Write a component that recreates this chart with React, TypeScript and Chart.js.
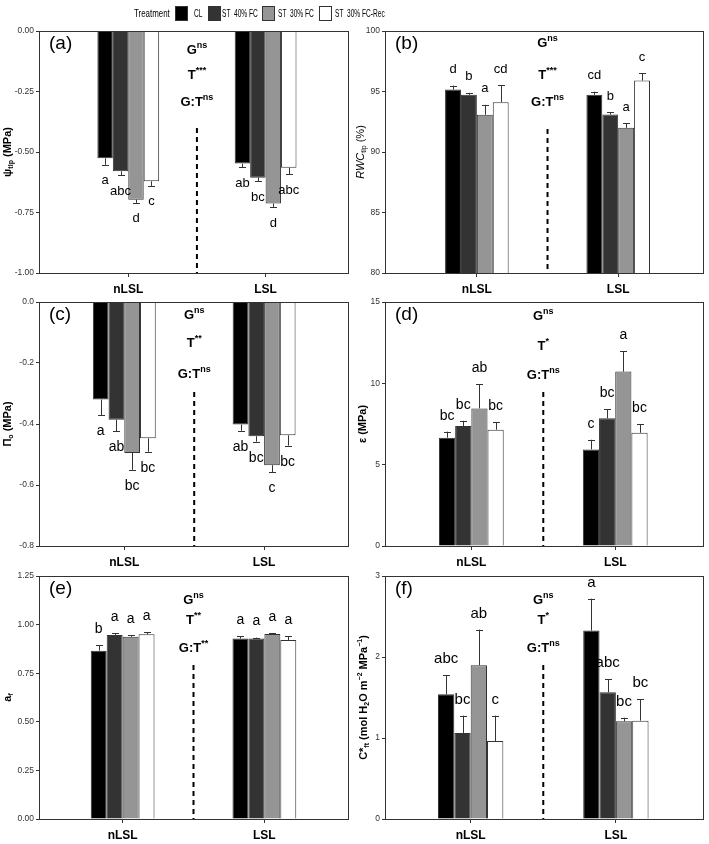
import React, { useEffect, useRef } from 'react';
import { Chart, registerables } from 'chart.js';
Chart.register(...registerables);

const FAMILY = '"Liberation Sans", Arial, Helvetica, sans-serif';
Chart.defaults.font.family = FAMILY;

const categories = ['nLSL', 'LSL'];
const treatments = ['CL', 'ST  40% FC', 'ST  30% FC', 'ST  30% FC-Rec'];
const barColors = ['#000000', '#333333', '#959595', '#ffffff'];

// (a) turgor loss point water potential (MPa): [treatment][category]
const psiTlpMeans = [[-0.526, -0.548], [-0.58, -0.606], [-0.697, -0.713], [-0.621, -0.565]];
const psiTlpErrors = [[0.027, 0.014], [0.017, 0.015], [0.013, 0.014], [0.019, 0.026]];
const psiTlpLetters = [['a', 'ab'], ['abc', 'bc'], ['d', 'd'], ['c', 'abc']];
const psiTlpStats = ['ns', '***', 'ns'];

// (b) RWC at turgor loss point (%)
const rwcMeans = [[95.16, 94.73], [94.73, 93.1], [93.08, 92.0], [94.12, 95.9]];
const rwcErrors = [[0.33, 0.25], [0.16, 0.19], [0.82, 0.38], [1.38, 0.6]];
const rwcLetters = [['d', 'cd'], ['b', 'b'], ['a', 'a'], ['cd', 'c']];
const rwcStats = ['ns', '***', 'ns'];

// (c) osmotic potential at full turgor (MPa)
const piMeans = [[-0.32, -0.402], [-0.386, -0.44], [-0.495, -0.535], [-0.447, -0.437]];
const piErrors = [[0.052, 0.02], [0.038, 0.018], [0.055, 0.024], [0.044, 0.034]];
const piLetters = [['a', 'ab'], ['ab', 'bc'], ['bc', 'c'], ['bc', 'bc']];
const piStats = ['ns', '**', 'ns'];

// (d) bulk modulus of elasticity (MPa)
const epsMeans = [[6.66, 5.94], [7.37, 7.85], [8.46, 10.72], [7.15, 6.96]];
const epsErrors = [[0.37, 0.59], [0.33, 0.57], [1.48, 1.27], [0.47, 0.54]];
const epsLetters = [['bc', 'c'], ['bc', 'bc'], ['ab', 'a'], ['bc', 'bc']];
const epsStats = ['ns', '*', 'ns'];

// (e) apoplastic fraction
const afMeans = [[0.866, 0.928], [0.947, 0.928], [0.937, 0.952], [0.95, 0.921]];
const afErrors = [[0.028, 0.012], [0.008, 0.005], [0.008, 0.005], [0.012, 0.019]];
const afLetters = [['b', 'a'], ['a', 'a'], ['a', 'a'], ['a', 'a']];
const afStats = ['ns', '**', '**'];

// (f) capacitance at full turgor
const cftMeans = [[1.54, 2.326], [1.062, 1.564], [1.897, 1.206], [0.963, 1.214]];
const cftErrors = [[0.234, 0.394], [0.214, 0.161], [0.441, 0.044], [0.313, 0.264]];
const cftLetters = [['abc', 'a'], ['bc', 'abc'], ['ab', 'bc'], ['c', 'bc']];
const cftStats = ['ns', '*', 'ns'];

const statMain = ['G', 'T', 'G:T'];

type Seg = { t: string; sub?: boolean; sup?: boolean; italic?: boolean };

type Panel = {
  id: string;
  area: { l: number; t: number; r: number; b: number };
  xMin: number; xMax: number;
  yMin: number; yMax: number; yStep: number; decimals: number;
  means: number[][]; errors: number[][]; letters: string[][];
  stats: string[]; statY: number[]; dashTop: number;
  title: Seg[]; titleBold: boolean; titleOffset: number;
  letterSize: number;
};

const panels: Panel[] = [
  {
    id: 'a', area: { l: 39, t: 31, r: 348, b: 273 }, xMin: 0.35, xMax: 2.6,
    yMin: -1, yMax: 0, yStep: 0.25, decimals: 2,
    means: psiTlpMeans, errors: psiTlpErrors, letters: psiTlpLetters,
    stats: psiTlpStats, statY: [19, 44, 71], dashTop: 97,
    title: [{ t: 'ψ' }, { t: 'tlp', sub: true }, { t: ' (MPa)' }], titleBold: true, titleOffset: 31,
    letterSize: 13,
  },
  {
    id: 'b', area: { l: 385, t: 31, r: 703, b: 273 }, xMin: 0.35, xMax: 2.6,
    yMin: 80, yMax: 100, yStep: 5, decimals: 0,
    means: rwcMeans, errors: rwcErrors, letters: rwcLetters,
    stats: rwcStats, statY: [12, 44, 71], dashTop: 98,
    title: [{ t: 'RWC', italic: true }, { t: 'tlp', sub: true }, { t: ' (%)' }], titleBold: false, titleOffset: 24,
    letterSize: 13,
  },
  {
    id: 'c', area: { l: 39, t: 302, r: 348, b: 546 }, xMin: 0.39, xMax: 2.6,
    yMin: -0.8, yMax: 0, yStep: 0.2, decimals: 1,
    means: piMeans, errors: piErrors, letters: piLetters,
    stats: piStats, statY: [13, 41, 72], dashTop: 90,
    title: [{ t: 'Π' }, { t: 'o', sub: true }, { t: ' (MPa)' }], titleBold: true, titleOffset: 31,
    letterSize: 14,
  },
  {
    id: 'd', area: { l: 385, t: 302, r: 703, b: 546 }, xMin: 0.4, xMax: 2.61,
    yMin: 0, yMax: 15, yStep: 5, decimals: 0,
    means: epsMeans, errors: epsErrors, letters: epsLetters,
    stats: epsStats, statY: [14, 44, 73], dashTop: 90,
    title: [{ t: 'ε (MPa)' }], titleBold: true, titleOffset: 22,
    letterSize: 14,
  },
  {
    id: 'e', area: { l: 39, t: 576, r: 348, b: 819 }, xMin: 0.41, xMax: 2.59,
    yMin: 0, yMax: 1.25, yStep: 0.25, decimals: 2,
    means: afMeans, errors: afErrors, letters: afLetters,
    stats: afStats, statY: [24, 44, 72], dashTop: 89,
    title: [{ t: 'a' }, { t: 'f', sub: true }], titleBold: true, titleOffset: 31,
    letterSize: 14,
  },
  {
    id: 'f', area: { l: 385, t: 576, r: 703, b: 819 }, xMin: 0.41, xMax: 2.6,
    yMin: 0, yMax: 3, yStep: 1, decimals: 0,
    means: cftMeans, errors: cftErrors, letters: cftLetters,
    stats: cftStats, statY: [24, 44, 72], dashTop: 89,
    title: [
      { t: 'C*' }, { t: 'ft', sub: true }, { t: ' (mol H' }, { t: '2', sub: true }, { t: 'O m' },
      { t: '−2', sup: true }, { t: ' MPa' }, { t: '−1', sup: true }, { t: ')' },
    ], titleBold: true, titleOffset: 21,
    letterSize: 15,
  },
];

const YW = 39, PT = 12, PR = 4, XH = 24;

function drawRich(ctx: CanvasRenderingContext2D, segs: Seg[], x: number, y: number, size: number, bold: boolean, small = 0.65) {
  const fontFor = (s: Seg) =>
    `${s.italic ? 'italic ' : ''}${bold ? 'bold ' : ''}${s.sub || s.sup ? Math.round(size * small) : size}px ${FAMILY}`;
  let total = 0;
  const widths = segs.map((s) => {
    ctx.font = fontFor(s);
    const w = ctx.measureText(s.t).width;
    total += w;
    return w;
  });
  let cx = x - total / 2;
  ctx.textAlign = 'left';
  ctx.textBaseline = 'middle';
  segs.forEach((s, i) => {
    ctx.font = fontFor(s);
    const dy = s.sub ? size * 0.3 : s.sup ? -size * 0.36 : 0;
    ctx.fillText(s.t, cx, y + dy);
    cx += widths[i];
  });
}

function makePlugin(p: Panel) {
  return {
    id: 'decor_' + p.id,
    afterDatasetsDraw(chart: any) {
      const ctx: CanvasRenderingContext2D = chart.ctx;
      const { left, top, right, bottom } = chart.chartArea;
      const xs = chart.scales.x;
      const ys = chart.scales.y;
      ctx.save();
      // error bars and letters
      chart.data.datasets.forEach((_ds: any, i: number) => {
        const meta = chart.getDatasetMeta(i);
        meta.data.forEach((el: any, j: number) => {
          const v = p.means[i][j];
          const e = p.errors[i][j];
          const sgn = v < 0 ? -1 : 1;
          const yEnd = ys.getPixelForValue(v + sgn * e);
          const x = Math.round(el.x) + 0.5;
          ctx.strokeStyle = '#333';
          ctx.lineWidth = 1;
          ctx.setLineDash([]);
          ctx.beginPath();
          ctx.moveTo(x, el.y);
          ctx.lineTo(x, yEnd);
          ctx.moveTo(x - 3.5, Math.round(yEnd) + 0.5);
          ctx.lineTo(x + 3.5, Math.round(yEnd) + 0.5);
          ctx.stroke();
          ctx.fillStyle = '#000';
          ctx.font = `${p.letterSize}px ${FAMILY}`;
          ctx.textAlign = 'center';
          ctx.textBaseline = 'middle';
          ctx.fillText(p.letters[i][j], el.x, yEnd - sgn * 16);
        });
      });
      // frame
      ctx.strokeStyle = '#333';
      ctx.lineWidth = 1;
      ctx.strokeRect(Math.round(left) + 0.5, Math.round(top) + 0.5, Math.round(right - left), Math.round(bottom - top));
      // dashed divider
      const mx = xs.getPixelForValue(1.5);
      ctx.strokeStyle = '#000';
      ctx.lineWidth = 2;
      ctx.setLineDash([5, 4]);
      ctx.beginPath();
      ctx.moveTo(mx, top + p.dashTop);
      ctx.lineTo(mx, bottom);
      ctx.stroke();
      ctx.setLineDash([]);
      // statistics
      ctx.fillStyle = '#000';
      statMain.forEach((m, k) => {
        drawRich(ctx, [{ t: m }, { t: p.stats[k], sup: true }], mx, top + p.statY[k], 13, true, 0.7);
      });
      // panel label
      ctx.font = `19px ${FAMILY}`;
      ctx.textAlign = 'left';
      ctx.textBaseline = 'middle';
      ctx.fillText('(' + p.id + ')', left + 10, top + 13);
      // y axis title
      ctx.save();
      ctx.translate(left - p.titleOffset, (top + bottom) / 2);
      ctx.rotate(-Math.PI / 2);
      drawRich(ctx, p.title, 0, 0, 11, p.titleBold);
      ctx.restore();
      ctx.restore();
    },
  };
}

function PanelChart({ p }: { p: Panel }) {
  const ref = useRef<HTMLCanvasElement | null>(null);
  const w = p.area.r - p.area.l + YW + PR;
  const h = p.area.b - p.area.t + PT + XH;
  useEffect(() => {
    if (!ref.current) return;
    const chart = new Chart(ref.current, {
      type: 'bar',
      data: {
        datasets: treatments.map((t, i) => ({
          label: t,
          data: categories.map((_c, j) => ({ x: j + 1, y: p.means[i][j] })),
          backgroundColor: barColors[i],
          borderColor: '#333',
          borderWidth: 1,
          categoryPercentage: 0.45,
          barPercentage: 1,
        })),
      },
      options: {
        animation: false,
        responsive: false,
        maintainAspectRatio: false,
        devicePixelRatio: 1,
        layout: { padding: { top: PT, right: PR, left: 0, bottom: 0 } },
        plugins: { legend: { display: false }, tooltip: { enabled: false } },
        scales: {
          x: {
            type: 'linear',
            min: p.xMin,
            max: p.xMax,
            offset: false,
            afterBuildTicks: (s: any) => {
              s.ticks = categories.map((_c, j) => ({ value: j + 1 }));
            },
            afterFit: (s: any) => {
              s.height = XH;
            },
            ticks: {
              autoSkip: false,
              maxRotation: 0,
              padding: 5,
              color: '#000',
              font: { size: 12, weight: 'bold' },
              callback: (v: any) => categories[Math.round(Number(v)) - 1] ?? '',
            },
            grid: { display: true, offset: false, drawOnChartArea: false, drawTicks: true, tickLength: 4, color: '#333' },
            border: { display: false },
          },
          y: {
            type: 'linear',
            min: p.yMin,
            max: p.yMax,
            afterFit: (s: any) => {
              s.width = YW;
            },
            ticks: {
              stepSize: p.yStep,
              padding: 2,
              color: '#333',
              font: { size: 8.5 },
              callback: (v: any) => Number(v).toFixed(p.decimals),
            },
            grid: { display: true, drawOnChartArea: false, drawTicks: true, tickLength: 3, color: '#333' },
            border: { display: false },
          },
        },
      } as any,
      plugins: [makePlugin(p)],
    });
    return () => chart.destroy();
  }, [p]);
  return (
    <canvas
      ref={ref}
      width={w}
      height={h}
      style={{ position: 'absolute', left: p.area.l - YW, top: p.area.t - PT, width: w, height: h }}
    />
  );
}

const legendBoxX = [175, 208, 262, 319];
const legendTextX = [194, 222, 278, 335];

const legendTextStyle: React.CSSProperties = {
  position: 'absolute',
  top: 6,
  fontSize: 11,
  lineHeight: '14px',
  whiteSpace: 'pre',
  display: 'inline-block',
  transform: 'scaleX(0.6)',
  transformOrigin: 'left center',
  color: '#000',
  zIndex: 2,
};

export default function App() {
  return (
    <div style={{ position: 'fixed', left: 0, top: 0, width: 709, height: 844, background: '#fff', overflow: 'hidden', fontFamily: FAMILY }}>
      {panels.map((p) => (
        <PanelChart key={p.id} p={p} />
      ))}
      <span style={{ ...legendTextStyle, left: 134, transform: 'scaleX(0.72)' }}>Treatment</span>
      {treatments.map((t, i) => (
        <React.Fragment key={t}>
          <div style={{ position: 'absolute', left: legendBoxX[i], top: 6, width: 13, height: 15, background: barColors[i], border: '1px solid #333', boxSizing: 'border-box', zIndex: 1 }} />
          <span style={{ ...legendTextStyle, left: legendTextX[i] }}>{t}</span>
        </React.Fragment>
      ))}
    </div>
  );
}
